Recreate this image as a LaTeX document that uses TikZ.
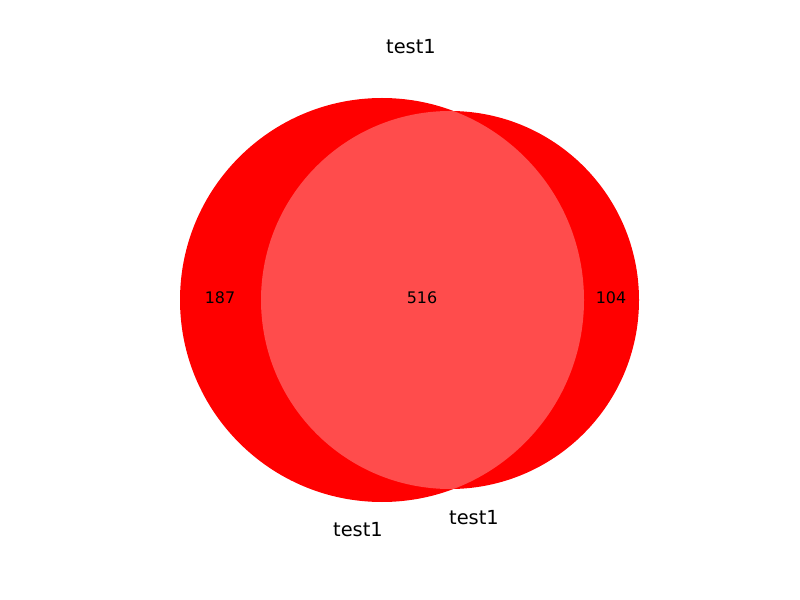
\documentclass[tikz,border=0pt]{standalone}
\usepackage{fontspec}
\setmainfont{DejaVu Sans}
\usepackage{xcolor}
\usepackage{tikz}
\definecolor{setred}{HTML}{FF0000}
\definecolor{overlap}{HTML}{FF4C4C}

\begin{document}
\begin{tikzpicture}[
    x=0.01in, y=-0.01in,
    region/.style={fill=setred,draw=none},
    count/.style={font=\fontsize{11.5}{13}\selectfont,inner sep=0pt},
    setlabel/.style={font=\fontsize{14}{16}\selectfont,inner sep=0pt}
  ]
    \useasboundingbox (0,0) rectangle (800,600);
    % the two sets
    \fill[region] (382,300) circle[radius=202];
    \fill[region] (450,300) circle[radius=189];
    % overlap
    \begin{scope}
      \clip (382,300) circle[radius=202];
      \fill[overlap] (450,300) circle[radius=189];
    \end{scope}
    % counts
    \node[count] (onlyA) at (220,298) {187};
    \node[count] (both)  at (422,298) {516};
    \node[count] (onlyB) at (611,298) {104};
    % set names
    \node[setlabel] (nameTop)   at (411,47)  {test1};
    \node[setlabel] (nameLeft)  at (358,530) {test1};
    \node[setlabel] (nameRight) at (474,518) {test1};
  \end{tikzpicture}
\end{document}
